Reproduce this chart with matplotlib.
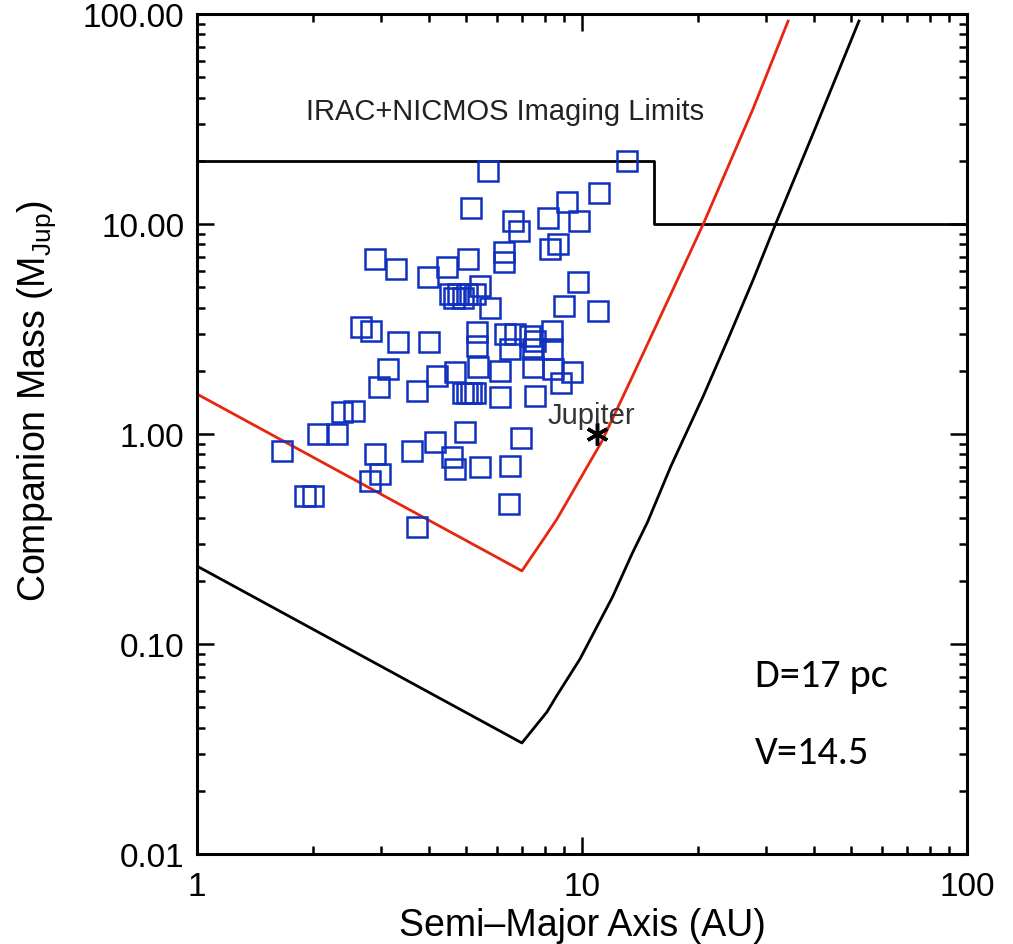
import matplotlib
matplotlib.use('Agg')
import matplotlib.pyplot as plt
from matplotlib.ticker import LogLocator, FixedFormatter, FixedLocator, NullFormatter

plt.rcParams['font.family'] = ['Liberation Sans', 'DejaVu Sans']

# ---- data ----
# detection limit curves (semi-major axis AU, mass M_Jup)
red_a = [1.0, 6.98, 8.01, 8.61, 11.27, 13.5, 17.0, 20.7, 27.8, 34.3]
red_m = [1.55, 0.223, 0.323, 0.394, 0.926, 1.87, 4.63, 10.1, 35.3, 92.6]
black_a = [1.0, 6.98, 8.11, 8.61, 9.88, 12.0, 13.5, 14.8, 17.0, 20.7, 24.0, 27.8, 31.9, 40.0, 52.4]
black_m = [0.235, 0.0338, 0.0475, 0.057, 0.0849, 0.1675, 0.27, 0.381, 0.70, 1.53, 2.86, 5.4, 10.1, 27.5, 92.6]

# imaging limits step
img_a = [1.0, 15.4, 15.4, 100.0]
img_m = [20.0, 20.0, 10.0, 10.0]

# known companions
comp_a = [2.90, 3.29, 3.98, 4.46, 2.67, 2.83, 3.33, 4.00, 5.70, 13.09,
          5.15, 6.62, 6.86, 8.16, 9.14, 9.82, 11.07, 8.26, 8.66, 6.27,
          6.27, 5.06, 4.54, 4.76, 5.03, 5.27, 5.43, 5.77, 9.76, 8.98,
          11.00, 5.34, 6.31, 7.33, 8.36, 7.55, 3.13, 2.97, 3.73, 4.20,
          2.38, 2.56, 2.06, 2.31, 1.66, 2.90, 3.62, 4.15, 2.99, 2.82,
          1.91, 2.00, 3.73, 5.34, 6.50, 5.37, 4.68, 6.12, 7.46, 8.41,
          9.42, 8.82, 4.91, 5.03, 5.15, 5.26, 6.12, 7.55, 4.97, 6.94,
          4.60, 5.43, 4.68, 6.50, 6.46, 6.70, 7.46, 8.36, 4.65, 4.90]
comp_m = [6.81, 6.11, 5.59, 6.24, 3.23, 3.09, 2.73, 2.73, 17.88, 19.95,
          11.92, 10.33, 9.26, 10.68, 12.73, 10.33, 14.05, 7.60, 8.03, 7.36,
          6.59, 6.81, 4.64, 4.64, 4.64, 4.64, 5.07, 3.98, 5.30, 4.07,
          3.85, 3.06, 2.99, 2.93, 3.09, 2.77, 2.04, 1.67, 1.60, 1.89,
          1.27, 1.29, 1.00, 1.00, 0.83, 0.80, 0.83, 0.92, 0.645, 0.60,
          0.507, 0.507, 0.361, 2.62, 2.54, 2.08, 1.97, 2.00, 2.08, 2.04,
          1.97, 1.75, 1.56, 1.56, 1.56, 1.56, 1.50, 1.52, 1.02, 0.957,
          0.777, 0.696, 0.681, 0.704, 0.464, 2.99, 2.54, 2.54, 4.45, 4.45]

jup_a, jup_m = 10.94, 1.0

y_ticks = [0.01, 0.1, 1.0, 10.0, 100.0]
y_labels = ['0.01', '0.10', '1.00', '10.00', '100.00']
x_ticks = [1, 10, 100]
x_labels = ['1', '10', '100']

# ---- plot ----
fig = plt.figure(figsize=(10.13, 9.45), dpi=100)
ax = fig.add_axes([0.1945, 0.0952, 0.7601, 0.8889])

ax.plot(img_a, img_m, color='black', lw=2.0)
ax.plot(black_a, black_m, color='black', lw=2.0)
ax.plot(red_a, red_m, color='#e8250f', lw=2.0)
ax.plot(comp_a, comp_m, ls='none', marker='s', ms=14, mfc='none',
        mec='#1030c0', mew=1.8)
ax.plot([jup_a], [jup_m], ls='none', marker=(6, 2, 0), ms=16,
        color='black', mew=2.5)

ax.set_xscale('log')
ax.set_yscale('log')
ax.set_xlim(1, 100)
ax.set_ylim(0.01, 100)

ax.yaxis.set_major_locator(FixedLocator(y_ticks))
ax.yaxis.set_major_formatter(FixedFormatter(y_labels))
ax.xaxis.set_major_locator(FixedLocator(x_ticks))
ax.xaxis.set_major_formatter(FixedFormatter(x_labels))
ax.xaxis.set_minor_locator(LogLocator(base=10, subs=range(2, 10)))
ax.yaxis.set_minor_locator(LogLocator(base=10, subs=range(2, 10)))
ax.xaxis.set_minor_formatter(NullFormatter())
ax.yaxis.set_minor_formatter(NullFormatter())

ax.tick_params(which='both', direction='in', top=True, right=True,
               width=1.8, labelsize=24)
ax.tick_params(which='major', length=12)
ax.tick_params(which='minor', length=6)
ax.tick_params(axis='y', pad=9)
ax.tick_params(axis='x', pad=12)
for sp in ax.spines.values():
    sp.set_linewidth(2.2)

ax.set_xlabel('Semi\u2013Major Axis (AU)', fontsize=27, labelpad=4)
ax.set_ylabel(r'Companion Mass (M$_\mathregular{Jup}$)', fontsize=27)
ax.yaxis.set_label_coords(-0.18, 0.54)

ax.text(0.40, 0.885, 'IRAC+NICMOS Imaging Limits', transform=ax.transAxes,
        ha='center', va='center', fontsize=21, color='#222222')
ax.text(8.15, 1.06, 'Jupiter', fontsize=21, color='#333333',
        ha='left', va='bottom')

ax.text(0.725, 0.213, 'D=17 pc', transform=ax.transAxes, fontsize=29,
        family=['Carlito', 'Lato'], va='center', ha='left')
ax.text(0.725, 0.122, 'V=14.5', transform=ax.transAxes, fontsize=29,
        family=['Carlito', 'Lato'], va='center', ha='left')

fig.savefig('out.png', dpi=100)
